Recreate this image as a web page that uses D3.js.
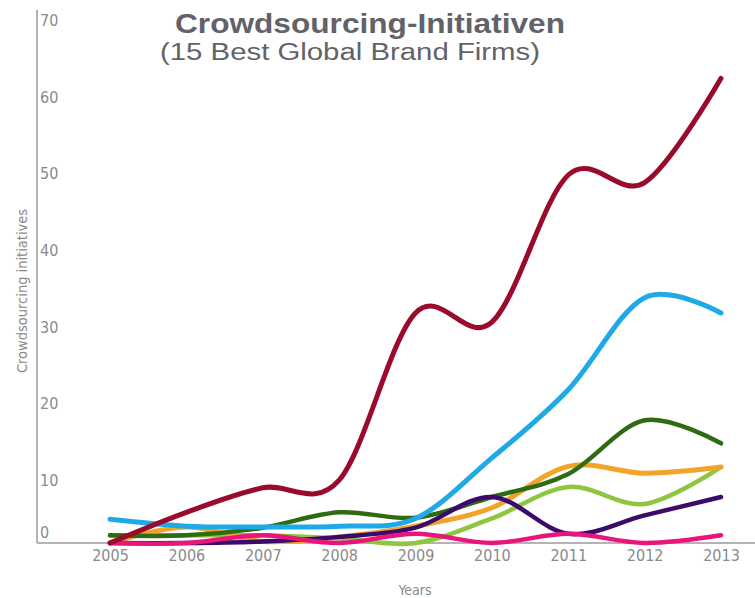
<!DOCTYPE html>
<html>
<head>
<meta charset="utf-8">
<script src="https://cdn.jsdelivr.net/npm/d3@7"></script>
<style>
  body { margin: 0; background: #fff; }
  .tick text { font-family: "Liberation Sans Narrow", "DejaVu Sans Condensed", sans-serif; fill: #8a8a8a; }
</style>
</head>
<body>
<svg id="chart" width="755" height="598"></svg>
<script>
// data
const years = [2005, 2006, 2007, 2008, 2009, 2010, 2011, 2012, 2013];
const yTicks = [0, 10, 20, 30, 40, 50, 60, 70];

const lightGreen = [1.0, 1.0, 1.0, 0.6, 0, 3.2, 7.3, 5.1, 9.9];
const orange     = [0, 2.1, 0.2, 0.8, 2.2, 4.6, 10.0, 9.1, 9.9];
const darkGreen  = [1.0, 1.0, 2.0, 4.0, 3.3, 6.0, 9.0, 16.0, 13.0];
const purple     = [0, 0, 0.2, 0.8, 2.0, 6.0, 1.2, 3.6, 6.0];
const pink       = [0, 0, 1.0, 0, 1.2, 0, 1.2, 0, 1.0];
const blue       = [3.1, 2.2, 2.1, 2.2, 3.2, 11.1, 20.0, 32.0, 30.0];
const red        = [0, 4.0, 7.2, 8.2, 30.0, 28.8, 48.0, 47.0, 60.6];

const series = [
  { values: lightGreen, color: "#8dc63f", w: 4.5 },
  { values: orange, color: "#f2a428", w: 5 },
  { values: darkGreen, color: "#2e6b12", w: 4.5 },
  { values: purple, color: "#3b0a6b", w: 4.5 },
  { values: pink, color: "#e8167c", w: 4.5 },
  { values: blue, color: "#1fa9e6", w: 5 },
  { values: red, color: "#9a0a2b", w: 5 },
];

const svg = d3.select("#chart");
const width = 755;

const x = d3.scaleLinear().domain([2005, 2013]).range([110, 721]);
const y = d3.scaleLinear().domain([0, 70]).range([543, 6.3]);

// title
svg.append("text")
  .attr("x", 175).attr("y", 33)
  .attr("font-family", "Liberation Sans, Arial, sans-serif")
  .attr("font-weight", "bold").attr("font-size", 28)
  .attr("fill", "#626268")
  .attr("textLength", 390).attr("lengthAdjust", "spacingAndGlyphs")
  .text("Crowdsourcing-Initiativen");
svg.append("text")
  .attr("x", 160).attr("y", 60)
  .attr("font-family", "Liberation Sans, Arial, sans-serif")
  .attr("font-size", 23)
  .attr("fill", "#626268")
  .attr("textLength", 380).attr("lengthAdjust", "spacingAndGlyphs")
  .text("(15 Best Global Brand Firms)");

// y axis: labels sit right of the line, just under their value
const yAxis = svg.append("g")
  .attr("transform", "translate(37,0)")
  .call(d3.axisRight(y).tickValues(yTicks).tickSize(0).tickPadding(3));
yAxis.select(".domain").attr("stroke", "#9a9a9a").attr("stroke-width", 1.5)
  .attr("d", `M0,10V${y(0)}`);
yAxis.selectAll(".tick text")
  .attr("font-size", 16)
  .attr("dy", d => d === 0 ? "-0.35em" : "1.2em");

// x axis
svg.append("line")
  .attr("x1", 37).attr("x2", width)
  .attr("y1", y(0)).attr("y2", y(0))
  .attr("stroke", "#b4b4b4").attr("stroke-width", 2);
const xAxis = svg.append("g")
  .attr("transform", `translate(0,${y(0)})`)
  .call(d3.axisBottom(x).tickValues(years).tickFormat(d3.format("d")).tickSize(0).tickPadding(7));
xAxis.select(".domain").remove();
xAxis.selectAll(".tick text").attr("font-size", 16);

// axis titles
svg.append("text")
  .attr("x", 415).attr("y", 590)
  .attr("text-anchor", "middle")
  .attr("dominant-baseline", "central")
  .attr("font-family", "Liberation Sans Narrow, DejaVu Sans Condensed, sans-serif")
  .attr("font-size", 14).attr("fill", "#8a8a8a")
  .text("Years");
svg.append("text")
  .attr("transform", "translate(27,291) rotate(-90)")
  .attr("text-anchor", "middle")
  .attr("font-family", "Liberation Sans Narrow, DejaVu Sans Condensed, sans-serif")
  .attr("font-size", 14.5).attr("fill", "#8a8a8a")
  .text("Crowdsourcing initiatives");

// lines
const line = d3.line()
  .x((d, i) => x(years[i]))
  .y(d => y(d))
  .curve(d3.curveCardinal.tension(0));

svg.append("g").selectAll("path")
  .data(series)
  .join("path")
  .attr("d", s => line(s.values))
  .attr("fill", "none")
  .attr("stroke", s => s.color)
  .attr("stroke-width", s => s.w)
  .attr("stroke-linecap", "round")
  .attr("stroke-linejoin", "round");
</script>
</body>
</html>
